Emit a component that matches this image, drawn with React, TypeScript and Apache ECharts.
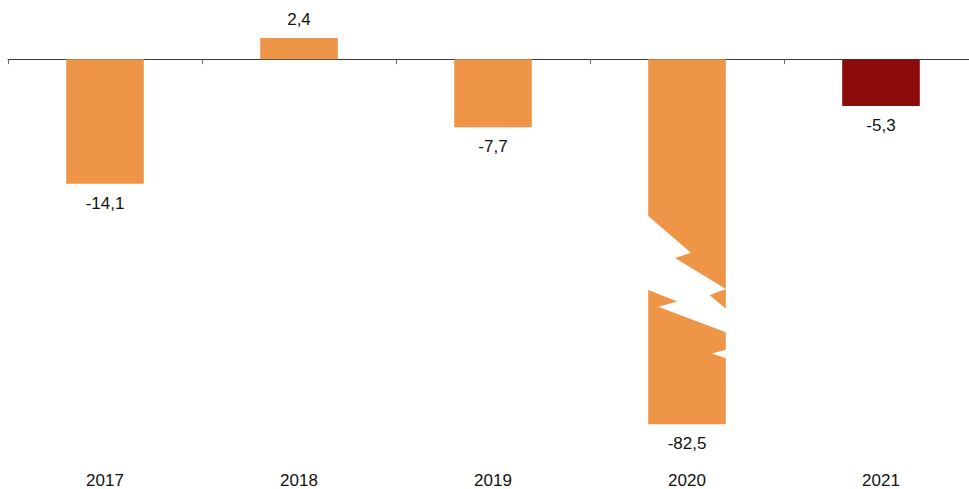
import React, { useEffect, useRef } from "react";
import * as echarts from "echarts";

const CATEGORIES = ["2017", "2018", "2019", "2020", "2021"];
const VALUES = [-14.1, 2.4, -7.7, -82.5, -5.3];
const HIGHLIGHT_INDEX = 4;
// The 2020 bar is drawn with a broken axis: shortened to this value on screen
const BROKEN_INDEX = 3;
const BROKEN_DISPLAY_VALUE = -41.3;
// Zig-zag break drawn across the broken bar: [fraction of bar width, axis value]
const BREAK_MAIN: [number, number][] = [
  [-0.03, -17.5],
  [0.55, -21.9],
  [0.345, -22.5],
  [1, -26.0],
  [0.79, -26.7],
  [1, -28.2],
  [1.03, -28.2],
  [1.03, -30.9],
  [1, -30.9],
  [0.13, -28.0],
  [0.375, -27.4],
  [-0.03, -26.0],
];
const BREAK_NOTCH: [number, number][] = [
  [1.03, -32.8],
  [0.82, -33.3],
  [1.03, -33.9],
];

const ORANGE = "#EE9548";
const DARK_RED = "#8C0B0B";
const BAR_WIDTH_RATIO = 0.4;

const fmt = (v: number) => v.toFixed(1).replace(".", ",");

export default function App() {
  const ref = useRef<HTMLDivElement>(null);
  useEffect(() => {
    if (!ref.current) return;
    const chart = echarts.init(ref.current, undefined, { renderer: "svg" });
    const barData = VALUES.map((v, i) => {
      const shown = i === BROKEN_INDEX ? BROKEN_DISPLAY_VALUE : v;
      return {
        value: shown,
        itemStyle: { color: i === HIGHLIGHT_INDEX ? DARK_RED : ORANGE },
        label: {
          position: shown < 0 ? "bottom" : "top",
          distance: shown < 0 ? 11 : 10,
        },
      };
    });
    chart.setOption({
      animation: false,
      grid: { left: 8, right: 0, top: 15, height: 444 },
      xAxis: [
        {
          type: "category",
          data: CATEGORIES,
          position: "top",
          axisLine: { show: true, onZero: true, lineStyle: { color: "#3a3a3a", width: 1 } },
          axisTick: { show: true, inside: true, length: 5, lineStyle: { color: "#6a6a6a" } },
          axisLabel: { show: false },
          splitLine: { show: false },
        },
        {
          type: "category",
          data: CATEGORIES,
          position: "bottom",
          axisLine: { show: false, onZero: false },
          axisTick: { show: false },
          axisLabel: {
            show: true,
            margin: 15,
            fontSize: 17,
            color: "#111",
            fontFamily: "Liberation Sans, Arial, sans-serif",
          },
          splitLine: { show: false },
        },
      ],
      yAxis: {
        type: "value",
        min: -45,
        max: 5,
        show: false,
        splitLine: { show: false },
      },
      series: [
        {
          type: "bar",
          xAxisIndex: 0,
          data: barData,
          barWidth: BAR_WIDTH_RATIO * 100 + "%",
          label: {
            show: true,
            fontSize: 17,
            color: "#111",
            fontFamily: "Liberation Sans, Arial, sans-serif",
            formatter: (p: any) => fmt(VALUES[p.dataIndex]),
          },
        },
        {
          type: "custom",
          xAxisIndex: 0,
          z: 10,
          silent: true,
          data: [[BROKEN_INDEX, BROKEN_DISPLAY_VALUE]],
          renderItem: (params: any, api: any) => {
            const idx = api.value(0);
            const center = api.coord([idx, 0]);
            const band = api.size([1, 0])[0];
            const bw = band * BAR_WIDTH_RATIO;
            const left = center[0] - bw / 2;
            const toPts = (shape: [number, number][]) =>
              shape.map(([f, v]) => [left + f * bw, api.coord([idx, v])[1]]);
            return {
              type: "group",
              children: [
                {
                  type: "polygon",
                  shape: { points: toPts(BREAK_MAIN) },
                  style: { fill: "#ffffff", stroke: null },
                },
                {
                  type: "polygon",
                  shape: { points: toPts(BREAK_NOTCH) },
                  style: { fill: "#ffffff", stroke: null },
                },
              ],
            };
          },
        },
      ],
    });
    return () => chart.dispose();
  }, []);
  return (
    <div
      style={{
        position: "fixed",
        left: 0,
        top: 0,
        width: 969,
        height: 489,
        overflow: "hidden",
        background: "#fff",
      }}
    >
      <div ref={ref} style={{ width: 978, height: 489 }} />
    </div>
  );
}
